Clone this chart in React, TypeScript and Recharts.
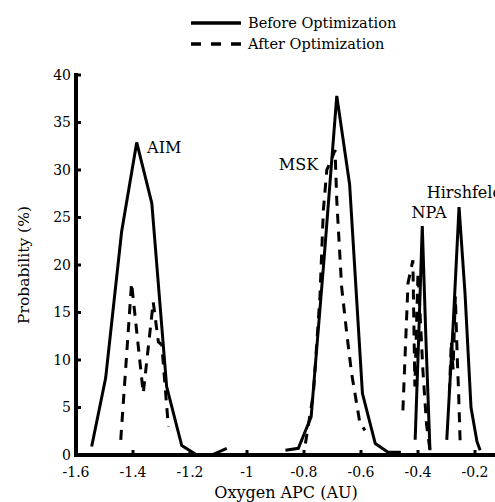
import React from 'react';
import { LineChart, Line, XAxis, YAxis, ReferenceDot } from 'recharts';

// axis ticks
const xTicks = [-1.6, -1.4, -1.2, -1, -0.8, -0.6, -0.4, -0.2];
const yTicks = [0, 5, 10, 15, 20, 25, 30, 35, 40];

// AIM
const aimBeforeApc = [-1.545, -1.496, -1.44, -1.387, -1.334, -1.282, -1.229, -1.176, -1.124, -1.071];
const aimBeforeProb = [0.9, 8.1, 23.5, 32.9, 26.5, 7.2, 1.0, 0, 0, 0.7];
const aimAfterApc = [-1.443, -1.405, -1.364, -1.329, -1.311, -1.299, -1.276];
const aimAfterProb = [1.6, 18.1, 6.5, 16.1, 11.9, 11.6, 3.0];

// MSK
const mskBeforeApc = [-0.865, -0.82, -0.775, -0.73, -0.685, -0.64, -0.595, -0.55, -0.505, -0.46];
const mskBeforeProb = [0.5, 0.7, 4.0, 20.5, 37.8, 28.5, 6.5, 1.2, 0.3, 0.3];
const mskAfterApc = [-0.795, -0.767, -0.744, -0.732, -0.72, -0.705, -0.691, -0.685, -0.668, -0.65, -0.633, -0.604, -0.586];
const mskAfterProb = [1.2, 6.5, 16.7, 25.8, 30.0, 31.0, 32.1, 26.8, 17.7, 12.8, 8.6, 3.4, 2.6];

// NPA
const npaBeforeApc = [-0.41, -0.398, -0.385, -0.372, -0.358];
const npaBeforeProb = [1.6, 12, 24.1, 12, 0.5];
const npaAfterApc = [-0.453, -0.435, -0.418, -0.411, -0.4, -0.383, -0.37, -0.358];
const npaAfterProb = [4.7, 18.1, 20.5, 7.2, 19.2, 9, 3.2, 0.5];

// Hirshfeld
const hirBeforeApc = [-0.299, -0.277, -0.256, -0.235, -0.214, -0.193, -0.182];
const hirBeforeProb = [1.6, 13.5, 26.1, 17, 5, 1.4, 0.5];
const hirAfterApc = [-0.29, -0.283, -0.277, -0.269, -0.262, -0.258, -0.252];
const hirAfterProb = [6.5, 12, 9, 16.7, 10, 7, 1.3];

const toPoints = (apc: number[], prob: number[]) => apc.map((x, i) => ({ x, y: prob[i] }));

const before = [
  toPoints(aimBeforeApc, aimBeforeProb),
  toPoints(mskBeforeApc, mskBeforeProb),
  toPoints(npaBeforeApc, npaBeforeProb),
  toPoints(hirBeforeApc, hirBeforeProb),
];
const after = [
  toPoints(aimAfterApc, aimAfterProb),
  toPoints(mskAfterApc, mskAfterProb),
  toPoints(npaAfterApc, npaAfterProb),
  toPoints(hirAfterApc, hirAfterProb),
];

const FONT = 'DejaVu Serif';
const tickStyle = { fill: '#000', fontSize: 14, fontFamily: FONT };
const axisLine = { stroke: '#000', strokeWidth: 4, strokeLinecap: 'square' as const };
const tickLine = { stroke: '#000', strokeWidth: 3 };
const labelStyle = { fill: '#000', fontSize: 16, fontFamily: FONT };

export default function App() {
  return (
    <div style={{ position: 'fixed', left: 0, top: 0, width: 495, height: 502, overflow: 'hidden', background: '#fff' }}>
      <LineChart width={520} height={502} margin={{ top: 75, right: 16.5, bottom: 17, left: 16 }}>
        <XAxis
          type="number"
          dataKey="x"
          domain={[-1.6, -0.1]}
          ticks={xTicks}
          allowDataOverflow
          axisLine={axisLine}
          tickLine={tickLine}
          tickSize={-5}
          tickMargin={17}
          tick={tickStyle}
          height={30}
        />
        <XAxis
          xAxisId="top"
          orientation="top"
          type="number"
          dataKey="x"
          domain={[-1.6, -0.1]}
          ticks={xTicks}
          allowDataOverflow
          axisLine={axisLine}
          tickLine={tickLine}
          tickSize={-5}
          tickFormatter={() => ''}
          height={0}
        />
        <YAxis
          type="number"
          domain={[0, 40]}
          ticks={yTicks}
          allowDataOverflow
          axisLine={axisLine}
          tickLine={tickLine}
          tickSize={-5}
          tickMargin={10}
          tick={tickStyle}
          width={60}
        />
        {before.map((d, i) => (
          <Line
            key={`b${i}`}
            data={d}
            dataKey="y"
            type="linear"
            stroke="#000"
            strokeWidth={3}
            dot={false}
            activeDot={false}
            isAnimationActive={false}
          />
        ))}
        {after.map((d, i) => (
          <Line
            key={`a${i}`}
            data={d}
            dataKey="y"
            type="linear"
            stroke="#000"
            strokeWidth={3}
            strokeDasharray="10 8"
            dot={false}
            activeDot={false}
            isAnimationActive={false}
          />
        ))}
        <ReferenceDot x={-1.368} y={32.4} r={0} stroke="none" fill="none" label={{ value: 'AIM', position: 'right', ...labelStyle }} />
        <ReferenceDot x={-0.733} y={30.6} r={0} stroke="none" fill="none" label={{ value: 'MSK', position: 'left', ...labelStyle }} />
        <ReferenceDot x={-0.44} y={25.5} r={0} stroke="none" fill="none" label={{ value: 'NPA', position: 'right', ...labelStyle }} />
        <ReferenceDot x={-0.387} y={27.7} r={0} stroke="none" fill="none" label={{ value: 'Hirshfeld', position: 'right', ...labelStyle }} />
      </LineChart>
      <svg width={495} height={502} style={{ position: 'absolute', left: 0, top: 0, pointerEvents: 'none' }}>
        <line x1={191} y1={23} x2={241} y2={23} stroke="#000" strokeWidth={3.5} />
        <text x={248} y={28} fontSize={14.5} fontFamily={FONT} fill="#000">Before Optimization</text>
        <line x1={191} y1={44} x2={241} y2={44} stroke="#000" strokeWidth={3.5} strokeDasharray="10 10" />
        <text x={248} y={48.5} fontSize={14.5} fontFamily={FONT} fill="#000">After Optimization</text>
        <text x={286} y={498} fontSize={16} fontFamily={FONT} fill="#000" textAnchor="middle">Oxygen APC (AU)</text>
        <text transform="translate(29,265) rotate(-90)" fontSize={15.5} fontFamily={FONT} fill="#000" textAnchor="middle">Probability (%)</text>
      </svg>
    </div>
  );
}
